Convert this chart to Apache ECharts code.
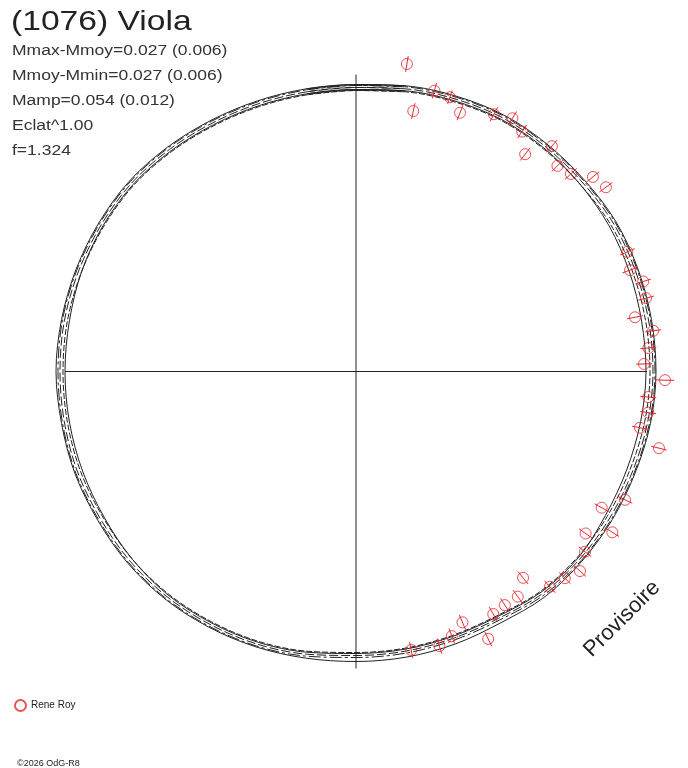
<!DOCTYPE html>
<html>
<head>
<meta charset="utf-8">
<script src="https://cdn.jsdelivr.net/npm/echarts@6/dist/echarts.min.js"></script>
<style>
  html, body { margin: 0; padding: 0; background: #fff; }
  #chart { width: 688px; height: 768px; }
</style>
</head>
<body>
<div id="chart"></div>
<script>
const RED = "#e8262b";
const INK = "#222";
const FONT = '"Liberation Sans", Arial, sans-serif';

// observations (Rene Roy): phase angle in degrees, clockwise from top, radius and radial error
const obsAngle = [9.4, 15.6, 18.9, 12.4, 21.9, 28.2, 31.7, 34.7, 37.9, 41.0, 44.4, 47.4, 50.6, 53.6,
  66.2, 69.7, 72.6, 75.8, 79.0, 82.2, 85.4, 88.5, 91.6, 95.0, 98.0, 101.2, 104.2,
  115.5, 119.0, 125.2, 122.1, 128.2, 131.7, 134.7, 138.0, 141.0, 144.3, 147.5, 150.5,
  157.0, 160.1, 153.7, 163.1, 168.8];
const obsRadius = [311.7, 291.5, 289.9, 266.7, 278.9, 291.9, 297.6, 291.8, 275.4, 298.6, 287.9, 291.9, 306.6, 310.5,
  296.6, 292.2, 301.0, 299.1, 284.2, 300.0, 293.3, 288.1, 309.1, 293.4, 295.1, 289.5, 312.5,
  298.1, 280.9, 281.0, 302.6, 291.4, 300.0, 293.8, 289.7, 265.5, 277.2, 277.0, 278.7,
  272.5, 281.4, 298.3, 286.9, 283.9];
const obsError = [8, 8, 7, 8, 8, 8, 8, 8, 8, 8, 8, 8, 8, 8,
  8, 8, 8, 8, 8, 8, 8, 8, 9, 8, 8, 8, 8,
  8, 8, 8, 8, 8, 8, 8, 8, 8, 8, 8, 8,
  8, 8, 8, 8, 8];

// model curves sampled every 10 deg
const modelAngle = [0, 10, 20, 30, 40, 50, 60, 70, 80, 90, 100, 110,
  120, 130, 140, 150, 160, 170, 180, 190, 200, 210, 220, 230,
  240, 250, 260, 270, 280, 290, 300, 310, 320, 330, 340, 350];
const modelOuter = [287, 290, 293, 296, 297, 298, 300, 300, 300, 300, 299, 297,
  296, 295, 294, 290, 290, 290, 290, 291, 293, 295, 297, 298,
  298, 299, 299, 300, 299, 298, 297, 296, 293, 290, 288, 287];
const modelInner = [282, 285, 288, 291, 292, 292, 292, 291, 290, 290, 289, 288,
  288, 290, 288, 283, 282, 282, 282, 285, 288, 290, 292, 292,
  291, 291, 291, 291, 291, 292, 292, 291, 288, 285, 283, 282];
const modelMid = [284, 287, 290, 293, 294, 295, 297, 297, 297, 297, 296, 294,
  293, 292, 290, 285, 284, 284, 284, 287, 290, 292, 294, 295,
  295, 296, 296, 296, 296, 295, 294, 293, 290, 287, 285, 284];
const modelLow = [281, 284, 287, 290, 291, 292, 294, 294, 294, 294, 293, 291,
  290, 289, 287, 282, 281, 281, 281, 284, 287, 289, 291, 292,
  292, 293, 293, 293, 293, 292, 291, 290, 287, 284, 282, 281];
const modelHigh = [286, 289, 292, 295, 296, 297, 299, 299, 299, 299, 298, 296,
  295, 294, 292, 287, 286, 286, 286, 289, 292, 294, 296, 297,
  297, 298, 298, 298, 298, 297, 296, 295, 292, 289, 287, 286];

const statLines = ["Mmax-Mmoy=0.027 (0.006)", "Mmoy-Mmin=0.027 (0.006)", "Mamp=0.054 (0.012)", "Eclat^1.00", "f=1.324"];

const AXIS_V = 297;
const AXIS_H = 291;

// wrap one sample on each side so the smoothed loop closes cleanly
function closedLoop(values) {
  const n = values.length;
  const pts = [[values[n - 1], modelAngle[n - 1] - 360]];
  values.forEach((v, i) => pts.push([v, modelAngle[i]]));
  pts.push([values[0], 360], [values[1], 360 + modelAngle[1]]);
  return pts;
}

function modelSeries(values, type) {
  return {
    type: "line",
    coordinateSystem: "polar",
    data: closedLoop(values),
    smooth: 0.33,
    symbol: "none",
    clip: false,
    silent: true,
    lineStyle: { color: INK, width: 1, type: type },
  };
}

function crossSeries(len, a) {
  return {
    type: "line",
    coordinateSystem: "polar",
    data: [[len, a], [0, a], [len, a + 180]],
    symbol: "none",
    clip: false,
    silent: true,
    lineStyle: { color: INK, width: 1 },
  };
}

const chart = echarts.init(document.getElementById("chart"));

const texts = statLines.map((t, i) => ({
  type: "text",
  x: 12,
  y: 51 + i * 25,
  scaleX: 1.25,
  style: { text: t, font: "14px " + FONT, fill: "#333", textVerticalAlign: "middle" },
}));

chart.setOption({
  animation: false,
  backgroundColor: "#fff",
  polar: { center: [356, 371.5], radius: 320 },
  angleAxis: {
    type: "value", min: 0, max: 360, startAngle: 90, clockwise: true,
    axisLine: { show: false }, axisTick: { show: false }, axisLabel: { show: false }, splitLine: { show: false },
  },
  radiusAxis: {
    type: "value", min: 0, max: 320,
    axisLine: { show: false }, axisTick: { show: false }, axisLabel: { show: false }, splitLine: { show: false },
  },
  legend: {
    data: ["Rene Roy"],
    left: 14, top: 699, padding: 0, orient: "vertical",
    icon: "circle", itemWidth: 11, itemHeight: 11,
    textStyle: { fontSize: 10, color: INK, fontFamily: FONT },
  },
  graphic: [
    {
      type: "text", x: 11, y: 22.5, scaleX: 1.2,
      style: { text: "(1076) Viola", font: "28px " + FONT, fill: INK, textVerticalAlign: "middle" },
    },
    ...texts,
    {
      type: "text", x: 622, y: 619, rotation: Math.PI / 4,
      style: { text: "Provisoire", font: "22px " + FONT, fill: INK, textAlign: "center", textVerticalAlign: "middle" },
    },
    {
      type: "text", x: 17, y: 763.5,
      style: { text: "\u00a92026 OdG-R8", font: "9px " + FONT, fill: INK, textVerticalAlign: "middle" },
    },
  ],
  series: [
    crossSeries(AXIS_V, 0),
    crossSeries(AXIS_H, 90),
    modelSeries(modelOuter, "solid"),
    modelSeries(modelInner, "solid"),
    modelSeries(modelMid, [9, 3]),
    modelSeries(modelLow, [6, 2]),
    modelSeries(modelHigh, [12, 3, 3, 3]),
    {
      name: "Rene Roy",
      type: "scatter",
      coordinateSystem: "polar",
      data: obsRadius.map((r, i) => [r, obsAngle[i]]),
      symbol: "circle",
      symbolSize: 11,
      clip: false,
      itemStyle: { color: "rgba(0,0,0,0)", borderColor: RED, borderWidth: 1 },
      z: 3,
    },
    {
      type: "custom",
      coordinateSystem: "polar",
      data: obsRadius.map((r, i) => [r, obsAngle[i], obsError[i]]),
      encode: { radius: 0, angle: 1 },
      clip: false,
      z: 4,
      renderItem: (params, api) => {
        const r = api.value(0);
        const a = api.value(1);
        const e = api.value(2);
        const p1 = api.coord([r - e, a]);
        const p2 = api.coord([r + e, a]);
        return {
          type: "line",
          shape: { x1: p1[0], y1: p1[1], x2: p2[0], y2: p2[1] },
          style: { stroke: RED, lineWidth: 1 },
        };
      },
    },
  ],
});
</script>
</body>
</html>
